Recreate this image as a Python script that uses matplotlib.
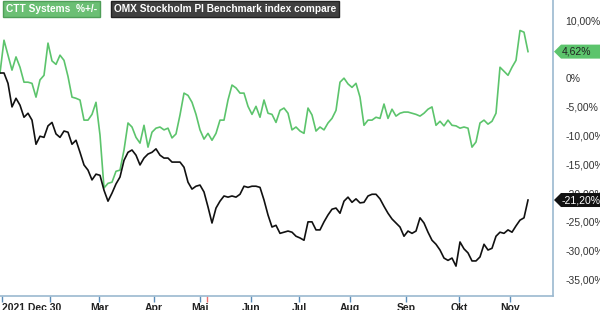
import matplotlib
matplotlib.use('Agg')
import matplotlib.pyplot as plt
from matplotlib.patches import Polygon
import numpy as np

plt.rcParams['font.family'] = ['Liberation Sans', 'DejaVu Sans']

# % change since 2021-12-30, one reading roughly every 1.67 trading days
ctt = [0.9, 6.6, 4.0, 1.4, 3.7, 1.9, -0.7, -0.7, -0.9, -3.3,
       -0.3, 0.5, 6.1, 3.0, 2.4, 4.0, 3.1, 0.3, -3.3, -3.5,
       -3.8, -7.3, -7.3, -6.3, -4.2, -9.9, -19.1, -18.3, -18.1, -16.2,
       -16.0, -12.5, -7.8, -8.5, -10.3, -11.3, -8.2, -12.0, -9.4, -8.7,
       -8.5, -9.0, -8.7, -10.4, -9.7, -6.4, -2.6, -3.0, -4.2, -6.3,
       -9.0, -10.6, -9.6, -10.8, -9.6, -7.3, -7.3, -3.8, -1.2, -1.7,
       -2.6, -2.6, -4.9, -6.3, -4.9, -6.8, -3.8, -6.1, -6.3, -7.7,
       -5.6, -5.2, -6.1, -9.0, -8.5, -9.2, -9.6, -5.2, -6.4, -9.2,
       -8.5, -9.0, -7.8, -7.0, -5.6, -0.7, 0.0, -1.0, -1.6, -0.9,
       -3.3, -8.2, -7.3, -7.3, -6.8, -7.0, -4.5, -7.0, -5.4, -6.6,
       -6.1, -5.9, -5.9, -6.1, -6.3, -6.6, -6.1, -5.4, -5.0, -8.2,
       -7.5, -8.3, -7.3, -8.2, -8.3, -8.7, -8.5, -8.7, -12.0, -11.1,
       -7.8, -7.3, -8.0, -7.5, -6.1, 1.9, 1.2, 0.5, 1.9, 3.1,
       8.3, 8.0, 4.62]

omx = [0.9, 0.9, -0.9, -5.0, -3.5, -4.7, -6.8, -6.1, -7.3, -11.5,
       -10.1, -10.3, -8.3, -7.7, -9.7, -10.3, -9.2, -9.4, -11.5, -10.8,
       -12.9, -15.1, -16.0, -17.7, -16.7, -16.9, -19.5, -21.4, -20.0, -18.4,
       -17.2, -14.3, -12.9, -12.5, -13.4, -15.1, -13.9, -13.2, -12.9, -12.3,
       -13.4, -13.9, -13.9, -14.6, -14.6, -14.6, -15.5, -18.1, -19.3, -18.8,
       -18.6, -19.8, -22.4, -25.2, -22.6, -21.4, -20.5, -20.7, -20.5, -20.7,
       -20.2, -18.8, -19.0, -18.8, -18.8, -19.0, -21.2, -23.8, -25.9, -25.6,
       -27.0, -26.8, -26.6, -26.8, -27.5, -27.8, -28.2, -25.0, -25.0, -26.4,
       -26.4, -25.0, -23.8, -22.8, -22.6, -23.5, -21.4, -20.7, -21.6, -21.0,
       -21.7, -21.6, -20.5, -20.2, -20.2, -21.0, -22.3, -23.5, -24.5, -25.2,
       -25.9, -27.5, -26.6, -27.0, -26.6, -24.3, -25.2, -26.8, -28.2, -28.9,
       -29.9, -31.3, -31.7, -31.3, -32.7, -28.5, -29.7, -30.4, -31.8, -31.8,
       -31.1, -28.9, -29.9, -29.6, -27.5, -26.8, -27.0, -26.4, -26.8, -25.7,
       -24.7, -24.3, -21.20]

month_labels = ['2021 Dec 30', '', 'Mar', 'Apr', 'Mai', 'Jun', 'Jul',
                'Aug', 'Sep', 'Okt', 'Nov']
month_days = [0.8, 20.8, 41.3, 64.2, 83.3, 104.6, 124.6, 145.8, 169.2, 191.3, 212.5]
# 5 % is hidden behind the CTT value tag in the original
y_ticks = [10, 0, -5, -10, -15, -20, -25, -30, -35]

green = '#5cc46c'
spine_col = '#9bb9cf'

days = np.arange(len(ctt)) * 5 / 3

fig = plt.figure(figsize=(6, 3.1), dpi=100)
ax = fig.add_axes([0, 14 / 310, 553 / 600, 296 / 310])

ax.plot(days, ctt, color=green, lw=1.2)
ax.plot(days, omx, color='#111111', lw=1.2)

ax.set_xlim(0, 553 / 2.4)
ax.set_ylim(-37.9, 13.6)

for s in ['top', 'left']:
    ax.spines[s].set_visible(False)
for s in ['right', 'bottom']:
    ax.spines[s].set_color(spine_col)
    ax.spines[s].set_linewidth(1.2)

ax.set_xticks(month_days)
ax.set_xticklabels(month_labels, fontsize=7.5, fontweight='bold', color='#222222')
ax.get_xticklabels()[0].set_horizontalalignment('left')
ax.tick_params(axis='x', length=4, width=1, color='#5b8db8', pad=1)
ax.set_xticks([86.3], minor=True)
ax.tick_params(axis='x', which='minor', length=4, width=1, color='#f07070')

ax.yaxis.tick_right()
ax.set_yticks(y_ticks)
ax.set_yticklabels([('%d,00%%' % v) if v != 0 else '0%' for v in y_ticks],
                   fontsize=7.5, color='#333333')
ax.tick_params(axis='y', length=0, pad=9)


def badge(value, text, face, tcolor):
    x0, yc = ax.transData.transform((ax.get_xlim()[1], value))
    h = 7
    pts = [(x0 + 1, yc), (x0 + 8, yc + h), (600, yc + h), (600, yc - h), (x0 + 8, yc - h)]
    fig.patches.append(Polygon(pts, closed=True, transform=None, facecolor=face,
                               edgecolor='none', zorder=5))
    fig.text((x0 + 9) / 600, yc / 310, text, ha='left', va='center',
             fontsize=7.5, color=tcolor, zorder=6)


badge(ctt[-1], '4,62%', green, '#222222')
badge(omx[-1], '-21,20%', '#111111', 'white')

fig.text(6 / 600, 1 - 9 / 310, 'CTT Systems  %+/-', ha='left', va='center',
         fontsize=7.3, fontweight='bold', color='white',
         bbox=dict(boxstyle='square,pad=0.25', facecolor='#6bbf74', edgecolor='#4f9e58'))
fig.text(114 / 600, 1 - 9 / 310, 'OMX Stockholm PI Benchmark index compare', ha='left',
         va='center', fontsize=7.3, fontweight='bold', color='white',
         bbox=dict(boxstyle='square,pad=0.25', facecolor='#404040', edgecolor='#222222'))

fig.savefig('out.png', dpi=100)
